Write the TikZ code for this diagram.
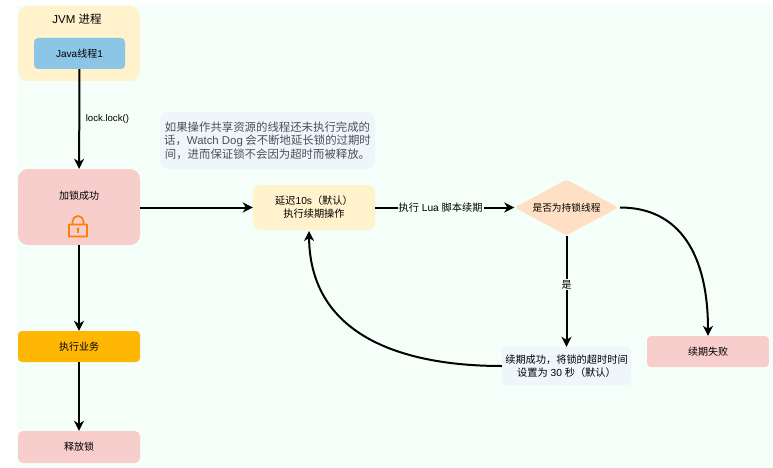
\documentclass[tikz,border=0pt]{standalone}
\usepackage{fontspec}
\setmainfont{Liberation Sans}
\newfontfamily\cjk{Noto Sans CJK SC}
\usetikzlibrary{arrows.meta,shapes.geometric}
\definecolor{mint}{HTML}{F5FFF9}
\definecolor{cream}{HTML}{FFF2CC}
\definecolor{skyb}{HTML}{8CC6E6}
\definecolor{pinkb}{HTML}{F8CECC}
\definecolor{amberb}{HTML}{FFB703}
\definecolor{palebl}{HTML}{EEF5FB}
\definecolor{peach}{HTML}{FFE0C4}
\definecolor{lockor}{HTML}{FF8000}
\definecolor{notetxt}{HTML}{4A5058}
\tikzset{
 every node/.style={font=\fontsize{10.2}{13}\selectfont,text=black,align=center,inner sep=0pt},
 boxn/.style={rounded corners=#1,minimum width=122pt},
 boxn/.default=5pt,
 conn/.style={draw=black,line width=2pt,-{Stealth[length=10pt,width=10pt,inset=3pt]}},
 lbl/.style={fill=mint,inner sep=1pt},
}
\begin{document}
\begin{tikzpicture}[x=1pt,y=-1pt]
\useasboundingbox (0,0) rectangle (773,468);
\fill[mint] (17,5) rectangle (773,468);
% boxes
\node[boxn=10pt,fill=cream,minimum height=75pt,anchor=center] (jvm) at (79,43.5) {};
\node[font=\fontsize{11.5}{13}\selectfont] (jvmt) at (77,19) {JVM {\cjk 进程}};
\node[boxn=4pt,fill=skyb,minimum width=91pt,minimum height=31pt] (java) at (79.5,53.5) {\fontsize{10}{12}\selectfont Java{\cjk 线程}1};
\node[boxn=10pt,fill=pinkb,minimum height=76pt] (lockok) at (79,207) {};
\node[font=\fontsize{10}{13}\cjk] (lockt) at (79,195.5) {加锁成功};
\node[boxn=4pt,fill=amberb,minimum height=31pt,font=\fontsize{10}{13}\cjk] (biz) at (79,346.5) {执行业务};
\node[boxn=5pt,fill=pinkb,minimum height=32pt,font=\fontsize{10}{13}\cjk] (rel) at (79,447) {释放锁};
\node[rounded corners=9pt,fill=palebl,minimum width=215pt,minimum height=57pt,text=notetxt,font=\fontsize{11.4}{13.4}\cjk] (note) at (267.5,140.5) {如果操作共享资源的线程还未执行完成的\\话，{\fontspec{Liberation Sans}Watch Dog} 会不断地延长锁的过期时\\间，进而保证锁不会因为超时而被释放。};
\node[rounded corners=7pt,fill=cream,minimum width=122pt,minimum height=45pt] (delay) at (314,207.5) {{\cjk 延迟}10s{\cjk （默认）}\\{\cjk 执行续期操作}};
\node[diamond,aspect=1.87,fill=peach,rounded corners=3pt,minimum width=104pt,minimum height=56pt] (dec) at (566.5,207.5) {};
\node[font=\fontsize{9.7}{12}\cjk] (dect) at (566.5,207.5) {是否为持锁线程};
\node[rounded corners=5pt,fill=palebl,minimum width=129pt,minimum height=38pt] (ok) at (566.5,366) {{\cjk 续期成功，将锁的超时时间}\\{\cjk 设置为} 30 {\cjk 秒（默认）}};
\node[boxn=4pt,fill=pinkb,minimum height=31pt,font=\fontsize{10}{13}\cjk] (fail) at (708,351.5) {续期失败};
% lock icon
\draw[lockor,line width=1.7pt,rounded corners=0.3pt] (69,224.5) rectangle (87,236.5);
\draw[lockor,line width=1.7pt] (72.5,224) -- (72.5,221.5) arc[start angle=180,end angle=0,radius=5.5pt] -- (83.5,224);
\fill[lockor] (78,229) circle[radius=1.7pt];
\fill[lockor] (77.3,229) rectangle (78.7,233);
% connectors
\draw[conn] (java) -- node[right=5.5pt,pos=0.5,font=\fontsize{9.6}{11}\selectfont] (lab1) {lock.lock()} (lockok);
\draw[conn] (lockok.east |- delay.west) -- (delay);
\draw[conn] (lockok) -- (biz);
\draw[conn] (biz) -- (rel);
\draw[conn] (delay) -- node[lbl,pos=0.47] (lab2) {{\cjk 执行} Lua {\cjk 脚本续期}} (dec);
\draw[conn] (dec) -- node[lbl,pos=0.44] (lab3) {\fontsize{10}{11}\cjk 是} (ok);
\coordinate (curlend) at (309,231);
\draw[conn] (ok.west) .. controls (410,366) and (310,340) .. (curlend);
\draw[conn] (620,207.5) .. controls (680,207.5) and (708,255) .. (fail.north);
\end{tikzpicture}
\end{document}
